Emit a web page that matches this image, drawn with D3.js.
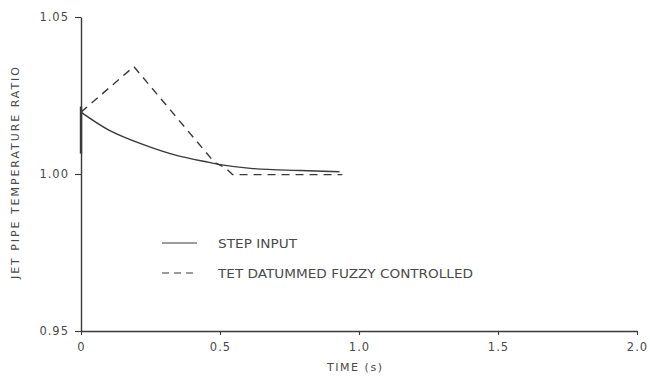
<!DOCTYPE html>
<html>
<head>
<meta charset="utf-8">
<script src="https://cdn.jsdelivr.net/npm/d3@7"></script>
<style>
  body { margin: 0; background: #fff; }
  svg { display: block; }
  text { font-family: "DejaVu Sans", sans-serif; fill: #4a4a4a; }
</style>
</head>
<body>
<svg id="chart" width="650" height="380"></svg>
<script>
// data
var stepTime = [0, 0.1, 0.22, 0.34, 0.46, 0.5, 0.61, 0.79, 0.93];
var stepRatio = [1.0197, 1.0140, 1.0095, 1.0060, 1.0037, 1.0030, 1.0018, 1.0011, 1.0007];

var fuzzyTime = [0, 0.19, 0.48, 0.52, 0.545, 0.94];
var fuzzyRatio = [1.0197, 1.0342, 1.0037, 1.0019, 0.9998, 0.9998];

var xTicks = [0, 0.5, 1.0, 1.5, 2.0];
var xTickLabels = ["0", "0.5", "1.0", "1.5", "2.0"];
var yTicks = [0.95, 1.00, 1.05];
var yTickLabels = ["0.95", "1.00", "1.05"];

var legendLabels = ["STEP INPUT", "TET DATUMMED FUZZY CONTROLLED"];

var svg = d3.select('#chart');
var plotLeft = 81, plotTop = 17, plotRight = 637, plotBottom = 331;
var ink = '#3a3a3a';

var x = d3.scaleLinear().domain([0, 2]).range([plotLeft, plotRight]);
var y = d3.scaleLinear().domain([0.95, 1.05]).range([plotBottom, plotTop]);

// axes
var xAxis = svg.append('g')
  .attr('transform', 'translate(0,' + plotBottom + ')')
  .call(d3.axisBottom(x).tickValues(xTicks).tickSizeInner(4).tickSizeOuter(0)
    .tickFormat(function (d, i) { return xTickLabels[i]; }));

var yAxis = svg.append('g')
  .attr('transform', 'translate(' + plotLeft + ',0)')
  .call(d3.axisLeft(y).tickValues(yTicks).tickSizeInner(6).tickSizeOuter(0)
    .tickFormat(function (d, i) { return yTickLabels[i]; }));

svg.selectAll('.domain').attr('stroke', ink).attr('stroke-width', 1.4);
svg.selectAll('.tick line').attr('stroke', ink).attr('stroke-width', 1.1);
svg.selectAll('.tick text')
  .attr('font-family', '"DejaVu Sans", sans-serif')
  .attr('font-size', 11.5)
  .attr('fill', '#4a4a4a')
  .style('letter-spacing', '1px');
xAxis.selectAll('.tick text').attr('dy', '1.1em');
yAxis.selectAll('.tick text').attr('x', -12);

// curves
var line = d3.line()
  .x(function (d) { return x(d[0]); })
  .y(function (d) { return y(d[1]); })
  .curve(d3.curveCatmullRom.alpha(0.5));

var stepData = stepTime.map(function (t, i) { return [t, stepRatio[i]]; });
var fuzzyData = fuzzyTime.map(function (t, i) { return [t, fuzzyRatio[i]]; });

// short heavy stroke on the axis at the start of the responses
svg.append('line')
  .attr('x1', x(0)).attr('x2', x(0))
  .attr('y1', y(1.0215)).attr('y2', y(1.0065))
  .attr('stroke', ink)
  .attr('stroke-width', 2.4);

svg.append('path')
  .datum(stepData)
  .attr('d', line)
  .attr('fill', 'none')
  .attr('stroke', ink)
  .attr('stroke-width', 1.4);

svg.append('path')
  .datum(fuzzyData)
  .attr('d', d3.line()
    .x(function (d) { return x(d[0]); })
    .y(function (d) { return y(d[1]); }))
  .attr('fill', 'none')
  .attr('stroke', ink)
  .attr('stroke-width', 1.4)
  .attr('stroke-dasharray', '8,6');

// axis titles
svg.append('text')
  .attr('transform', 'translate(19,173) rotate(-90)')
  .attr('text-anchor', 'middle')
  .attr('font-size', 11)
  .attr('textLength', 212)
  .attr('lengthAdjust', 'spacing')
  .text('JET PIPE TEMPERATURE RATIO');

svg.append('text')
  .attr('x', 327)
  .attr('y', 371)
  .attr('font-size', 11)
  .attr('textLength', 55)
  .attr('lengthAdjust', 'spacing')
  .text('TIME (s)');

// legend
var legendY = [243, 273];
var legendWidth = [79, 255];
legendLabels.forEach(function (label, i) {
  svg.append('line')
    .attr('x1', 162).attr('x2', 197)
    .attr('y1', legendY[i]).attr('y2', legendY[i])
    .attr('stroke', ink)
    .attr('stroke-width', 1.1)
    .attr('stroke-dasharray', i === 1 ? '7,5' : null);
  svg.append('text')
    .attr('x', 218)
    .attr('y', legendY[i] + 5)
    .attr('font-size', 12.5)
    .attr('textLength', legendWidth[i])
    .attr('lengthAdjust', 'spacingAndGlyphs')
    .text(label);
});
</script>
</body>
</html>
